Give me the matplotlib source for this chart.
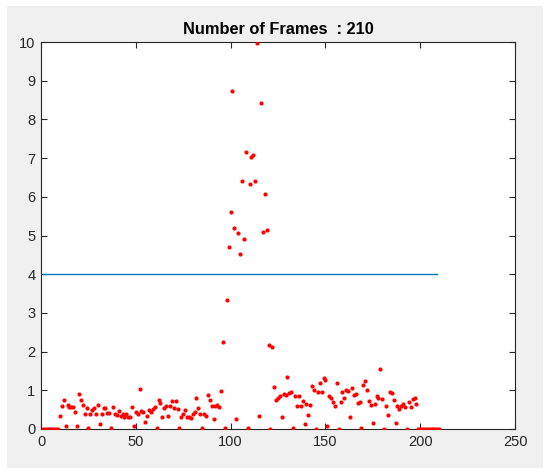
import numpy as np
import matplotlib
matplotlib.use("Agg")
import matplotlib.pyplot as plt
from matplotlib.patches import Rectangle

# per-frame values (frames 1..210)
zeros_start = [0.0] * 9                       # frames 1-9
vals_10_50 = [0.34, 0.60, 0.76, 0.08, 0.63, 0.56, 0.57, 0.58, 0.43, 0.09,
              0.90, 0.74, 0.63, 0.40, 0.55, 0.03, 0.40, 0.50, 0.55, 0.40,
              0.61, 0.13, 0.40, 0.53, 0.53, 0.42, 0.42, 0.03, 0.58, 0.38,
              0.36, 0.46, 0.34, 0.40, 0.30, 0.39, 0.31, 0.30, 0.58, 0.09,
              0.45]
vals_51_95 = [0.38, 1.03, 0.47, 0.43, 0.19, 0.34, 0.48, 0.45, 0.52, 0.57,
              0.03, 0.76, 0.66, 0.32, 0.55, 0.60, 0.34, 0.60, 0.72, 0.53,
              0.72, 0.51, 0.03, 0.32, 0.38, 0.48, 0.30, 0.32, 0.28, 0.40,
              0.45, 0.79, 0.55, 0.38, 0.03, 0.40, 0.33, 0.88, 0.74, 0.59,
              0.26, 0.59, 0.62, 0.57, 0.97]
vals_96_123 = [2.24, 0.02, 3.34, 4.69, 5.60, 8.74, 5.20, 0.25, 5.06, 4.52,
               6.42, 4.92, 7.16, 0.03, 6.33, 7.04, 7.07, 6.40, 9.97, 0.34,
               8.42, 5.10, 6.07, 5.15, 2.17, 0.0, 2.11, 1.09]
vals_124_198 = [0.75, 0.80, 0.84, 0.30, 0.90, 0.89, 1.35, 0.92, 0.96, 0.02,
                0.85, 0.59, 0.84, 0.60, 0.72, 0.13, 0.65, 0.35, 0.62, 1.11,
                1.01, 0.0, 0.96, 1.20, 0.96, 1.33, 1.27, 0.09, 0.84, 0.80,
                0.71, 0.60, 1.20, 0.0, 0.71, 0.96, 0.79, 1.02, 0.97, 0.32,
                1.05, 0.88, 0.91, 0.67, 0.69, 0.03, 1.14, 1.24, 1.00, 0.72,
                0.62, 0.15, 0.64, 0.86, 0.79, 1.55, 0.78, 0.0, 0.60, 0.36,
                0.96, 0.92, 0.76, 0.15, 0.59, 0.52, 0.60, 0.65, 0.57, 0.0,
                0.71, 0.57, 0.78, 0.79, 0.64]
zeros_end = [0.0] * 12                        # frames 199-210

values = zeros_start + vals_10_50 + vals_51_95 + vals_96_123 + vals_124_198 + zeros_end
frames = np.arange(1, len(values) + 1)
threshold = 4
n_frames = 210

plt.rcParams['font.family'] = ['Liberation Sans', 'DejaVu Sans']

fig = plt.figure(figsize=(5.5, 4.74), dpi=100, facecolor='white')
# grey MATLAB figure window inside a thin white margin
fig.patches.append(Rectangle((7 / 550, 6 / 474), 536 / 550, 462 / 474,
                             transform=fig.transFigure, facecolor='#f0f0f0',
                             edgecolor='none', zorder=-10))
ax = fig.add_axes([41 / 550, 1 - 429 / 474, 474 / 550, 387 / 474])

ax.plot(frames, values, 'o', color='red', ms=3.0, mec='none', zorder=3)
ax.plot([1, n_frames - 1], [threshold, threshold], color='#0072BD', lw=1.0, zorder=2)

ax.set_xlim(0, 250)
ax.set_ylim(0, 10)
ax.set_xticks(np.arange(0, 251, 50))
ax.set_yticks(np.arange(0, 11, 1))
ax.tick_params(direction='in', top=True, right=True, length=4, width=0.8,
               colors='#262626', labelsize=10.5, labelcolor='#262626', pad=4)
for s in ax.spines.values():
    s.set_color('#262626')
    s.set_linewidth(0.8)

ax.set_title('Number of Frames  : %d' % n_frames, fontsize=11.8, fontweight='bold',
             color='black', pad=6)

fig.savefig('out.png', dpi=100, facecolor=fig.get_facecolor())
